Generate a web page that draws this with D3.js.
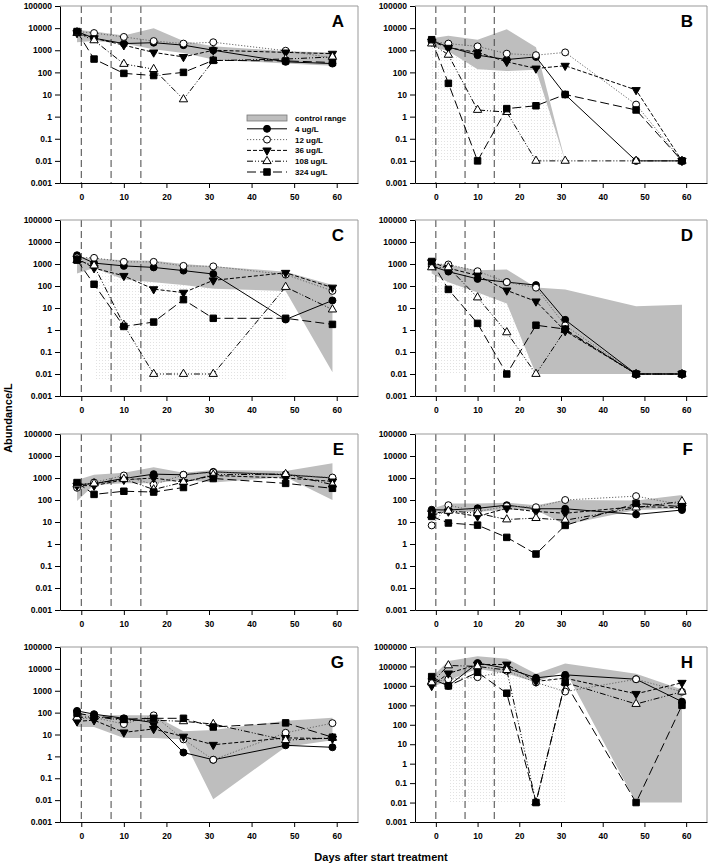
<!DOCTYPE html>
<html><head><meta charset="utf-8">
<script src="https://cdn.jsdelivr.net/npm/d3@7"></script>
<style>
body{margin:0;background:#fff}
svg{display:block}
text{font-family:"Liberation Sans",Arial,sans-serif;font-weight:bold;fill:#000}
</style>
</head><body>
<svg id="chart" width="710" height="865"></svg>
<script>
// ---------- data ----------
const days = [-1, 3, 10, 17, 24, 31, 48, 59];
const treatmentDays = [0, 7, 14];
const seriesNames = ["4 ug/L", "12 ug/L", "36 ug/L", "108 ug/L", "324 ug/L"];
const panelLetters = ["A", "B", "C", "D", "E", "F", "G", "H"];
const xTickValues = [0, 10, 20, 30, 40, 50, 60];
const yTickValues = [0.001, 0.01, 0.1, 1, 10, 100, 1000, 10000, 100000];
const yTickValuesH = [0.001, 0.01, 0.1, 1, 10, 100, 1000, 10000, 100000, 1000000];

// Panel A
const A4   = [7000, 3500, 2000, 2200, 1700, 1000, 300, 250];
const A12  = [7000, 6000, 4000, 2600, 2000, 2300, 950, 450];
const A36  = [6000, 3500, 1700, 800, 500, 1000, 800, 700];
const A108 = [6000, 2800, 240, 140, 6, 340, 400, 500];
const A324 = [7000, 400, 90, 72, 100, 350, 330, 280];
const ctrlHiA = [8500, 7000, 4700, 10000, 2600, 1500, 900, 800];
const ctrlLoA = [2300, 2600, 2000, 1100, 750, 380, 250, 200];
// Panel B
const B4   = [2800, 1400, 600, 380, 500, 10, 0.01, 0.01];
const B12  = [2500, 2000, 1500, 700, 600, 800, 3.5, 0.01];
const B36  = [2500, 1300, 800, 300, 150, 200, 16, 0.01];
const B108 = [2000, 620, 2, 1.6, 0.01, 0.01, 0.01, 0.01];
const B324 = [3000, 32, 0.01, 2.3, 3.1, 10, 2, 0.01];
const ctrlHiB = [3500, 4500, 3000, 9000, 1350, 0.01, 0.01, 0.01];
const ctrlLoB = [1500, 900, 140, 115, 130, 0.01, 0.01, 0.01];
const stipB = [0.01, 0.01, 0.01, 0.01, 0.01, 0.01, null, null];
// Panel C
const C4   = [2500, 1100, 820, 700, 500, 350, 3, 22];
const C12  = [2000, 1900, 1250, 1250, 820, 780, 330, 60];
const C36  = [1800, 650, 290, 72, 50, 180, 400, 85];
const C108 = [1500, 850, 1.7, 0.01, 0.01, 0.01, 90, 8.5];
const C324 = [1500, 120, 1.45, 2.3, 24, 3.4, 3.4, 1.8];
const ctrlHiC = [2100, 1800, 1500, 1400, 1000, 800, 440, 110];
const ctrlLoC = [370, 650, 200, 150, 110, 75, 60, 0.012];
const stipC = [null, 0.006, 0.006, 0.006, 0.006, 0.006, 0.006, null];
// Panel D
const D4   = [800, 450, 210, 150, 110, 2.9, 0.01, 0.01];
const D12  = [1000, 950, 470, 150, 84, 1.6, 0.01, 0.01];
const D36  = [1200, 650, 300, 63, 20, 0.9, 0.01, 0.01];
const D108 = [700, 700, 30, 0.78, 0.01, 1, 0.01, 0.01];
const D324 = [1300, 70, 2, 0.01, 1.65, 1.1, 0.01, 0.01];
const ctrlHiD = [1050, 900, 520, 560, 85, 70, 12, 14];
const ctrlLoD = [370, 150, 50, 16, 0.01, 0.01, 0.01, 0.01];
const stipD = [0.01, 0.01, 0.01, 0.01, 0.01, null, null, null];
// Panel E
const E4   = [500, 550, 950, 1500, 1400, 1900, 1400, 1000];
const E12  = [360, 630, 1300, 500, 1400, 1800, 1450, 1050];
const E36  = [450, 450, 830, 1000, 650, 1300, 1000, 700];
const E108 = [500, 560, 900, 300, 650, 1400, 1500, 500];
const E324 = [620, 180, 250, 230, 370, 950, 570, 340];
const ctrlHiE = [810, 1400, 1750, 3100, 1750, 2300, 2100, 4700];
const ctrlLoE = [90, 480, 570, 570, 810, 630, 1100, 100];
// Panel F
const F4   = [36, 35, 42, 58, 40, 40, 22, 35];
const F12  = [7, 58, 30, 52, 47, 100, 150, 60];
const F36  = [25, 30, 18, 42, 30, 25, 50, 45];
const F108 = [20, 32, 25, 13, 15, 12, 45, 87];
const F324 = [18, 9, 7.2, 2, 0.35, 7, 70, 50];
const ctrlHiF = [40, 70, 70, 75, 58, 100, 95, 170];
const ctrlLoF = [30, 29, 29, 35, 35, 7.5, 35, 40];
// Panel G
const G4   = [120, 85, 55, 35, 1.5, 0.7, 3.2, 2.6];
const G12  = [50, 60, 30, 75, 6, 0.7, 12, 33];
const G36  = [40, 45, 12.5, 18, 8, 3.4, 7, 6.5];
const G108 = [60, 65, 45, 45, 40, 30, 5.5, 7];
const G324 = [93, 70, 50, 55, 55, 22, 34, 7.5];
const ctrlHiG = [105, 75, 75, 75, 14, 16, 43, 58];
const ctrlLoG = [22, 22, 7, 7, 6, 0.011, 2.7, 5.5];
// Panel H
const H4   = [23000, 10000, 150000, 80000, 26000, 37000, 22000, 1550];
const H12  = [15000, 22000, 28000, 60000, 15000, 5100, 22000, 5000];
const H36  = [10000, 44000, 126000, 126000, 17000, 25000, 3900, 14500];
const H108 = [15000, 113000, 100000, 65000, 0.01, 15000, 1170, 5000];
const H324 = [30000, 10000, 50000, 4200, 0.01, 15000, 0.01, 1000];
const ctrlHiH = [28000, 190000, 330000, 250000, 42000, 140000, 42000, 6500];
const ctrlLoH = [8600, 19000, 76000, 42000, 15600, 62000, 0.01, 0.01];
const stipH = [null, 0.01, 0.01, 0.01, 0.01, 0.01, null, null];

// ---------- table built from arrays ----------
const panels = [
  {s:[A4,A12,A36,A108,A324], hi:ctrlHiA, lo:ctrlLoA, stip:null, yt:yTickValues},
  {s:[B4,B12,B36,B108,B324], hi:ctrlHiB, lo:ctrlLoB, stip:stipB, yt:yTickValues},
  {s:[C4,C12,C36,C108,C324], hi:ctrlHiC, lo:ctrlLoC, stip:stipC, yt:yTickValues},
  {s:[D4,D12,D36,D108,D324], hi:ctrlHiD, lo:ctrlLoD, stip:stipD, yt:yTickValues},
  {s:[E4,E12,E36,E108,E324], hi:ctrlHiE, lo:ctrlLoE, stip:null, yt:yTickValues},
  {s:[F4,F12,F36,F108,F324], hi:ctrlHiF, lo:ctrlLoF, stip:null, yt:yTickValues},
  {s:[G4,G12,G36,G108,G324], hi:ctrlHiG, lo:ctrlLoG, stip:null, yt:yTickValues},
  {s:[H4,H12,H36,H108,H324], hi:ctrlHiH, lo:ctrlLoH, stip:stipH, yt:yTickValuesH}
];

// ---------- styles ----------
const styles = [
  {dash:null,            stroke:"#000", sym:d3.symbolCircle,   size:38, fill:"#000", rot:0},
  {dash:"1.2,1.8",       stroke:"#666", sym:d3.symbolCircle,   size:38, fill:"#fff", rot:0},
  {dash:"4,2",           stroke:"#000", sym:d3.symbolTriangle, size:30, fill:"#000", rot:180},
  {dash:"6,2,1,2,1,2",   stroke:"#000", sym:d3.symbolTriangle, size:30, fill:"#fff", rot:0},
  {dash:"9,4",           stroke:"#000", sym:d3.symbolSquare,   size:42, fill:"#000", rot:0}
];
const bandFill = "#bebebe";

const svg = d3.select("#chart");
const defs = svg.append("defs");
const pat = defs.append("pattern").attr("id","stip").attr("width",3).attr("height",3)
  .attr("patternUnits","userSpaceOnUse");
pat.append("rect").attr("width",1).attr("height",1).attr("fill","#e2e2e2");

const colX = [[60, 358], [415, 707]];
const rowY = [[6, 183], [220, 396], [434, 610], [647, 822]];

panels.forEach((p, i) => {
  const c = i % 2, r = Math.floor(i / 2);
  const [x0, x1] = colX[c], [y0, y1] = rowY[r];
  const x = d3.scaleLinear().domain([-5, 65]).range([x0, x1]);
  const yTop = p.yt[p.yt.length - 1];
  const y = d3.scaleLog().domain([0.001, yTop]).range([y1, y0]);
  const g = svg.append("g");

  // control range band
  const band = days.map((d, k) => ({d, hi:p.hi[k], lo:p.lo[k]}));
  g.append("path").datum(band)
    .attr("d", d3.area().x(o => x(o.d)).y0(o => y(o.lo)).y1(o => y(o.hi)))
    .attr("fill", bandFill).attr("stroke", "none");

  // stippled lower region
  if (p.stip) {
    const st = days.map((d, k) => ({d, lo:p.lo[k], f:p.stip[k]}));
    g.append("path").datum(st)
      .attr("d", d3.area().defined(o => o.f !== null).x(o => x(o.d)).y0(o => y(o.f)).y1(o => y(o.lo)))
      .attr("fill", "url(#stip)").attr("stroke", "none");
  }

  // treatment dashed lines
  g.selectAll(".tl").data(treatmentDays).enter().append("line")
    .attr("x1", d => x(d)).attr("x2", d => x(d)).attr("y1", y0).attr("y2", y1)
    .attr("stroke", "#444").attr("stroke-width", 1).attr("stroke-dasharray", "7,4");

  // series
  p.s.forEach((vals, si) => {
    const st = styles[si];
    const pts = days.map((d, k) => ({d, v:vals[k]}));
    g.append("path").datum(pts)
      .attr("d", d3.line().x(o => x(o.d)).y(o => y(o.v)))
      .attr("fill", "none").attr("stroke", st.stroke).attr("stroke-width", 1)
      .attr("stroke-dasharray", st.dash);
    g.selectAll(null).data(pts).enter().append("path")
      .attr("d", d3.symbol().type(st.sym).size(st.size))
      .attr("transform", o => `translate(${x(o.d)},${y(o.v)}) rotate(${st.rot})`)
      .attr("fill", st.fill).attr("stroke", "#000").attr("stroke-width", 1);
  });

  // frame (top and right)
  g.append("path").attr("d", `M${x0},${y0}H${x1}V${y1}`)
    .attr("fill", "none").attr("stroke", "#999").attr("stroke-width", 1);

  // axes
  const minorY = [];
  for (let e = -3; e < Math.log10(yTop); e++) for (let m = 2; m <= 9; m++) minorY.push(m * Math.pow(10, e));
  const ay = g.append("g").attr("transform", `translate(${x0},0)`);
  ay.call(d3.axisLeft(y).tickValues(minorY).tickSize(3).tickSizeOuter(0).tickFormat(""));
  ay.call(d3.axisLeft(y).tickValues(p.yt).tickSize(5).tickSizeOuter(0).tickPadding(3)
    .tickFormat(v => String(v)));
  ay.selectAll("text").style("font-size", "8.5px").style("font-family", null);

  const minorX = d3.range(-4, 65, 2);
  const ax = g.append("g").attr("transform", `translate(0,${y1})`);
  ax.call(d3.axisBottom(x).tickValues(minorX).tickSize(3).tickSizeOuter(0).tickFormat(""));
  ax.call(d3.axisBottom(x).tickValues(xTickValues).tickSize(5).tickSizeOuter(0).tickPadding(6));
  ax.selectAll("text").style("font-size", "8.5px").style("font-family", null);
  svg.selectAll(".domain").attr("stroke", "#000");

  // panel letter
  g.append("text").attr("x", x1 - 14).attr("y", y0 + 21).attr("text-anchor", "end")
    .style("font-size", "17px").text(panelLetters[i]);

  // legend in first panel
  if (i === 0) {
    const lx = x0 + 187, ly = y0 + 112, dy = 10.8;
    const lg = g.append("g");
    lg.append("rect").attr("x", lx).attr("y", ly - 3).attr("width", 40).attr("height", 6)
      .attr("fill", bandFill).attr("stroke", "#777").attr("stroke-width", 0.8);
    lg.append("text").attr("x", lx + 48).attr("y", ly + 3).style("font-size", "8px").text("control range");
    seriesNames.forEach((nm, si) => {
      const st = styles[si], yy = ly + dy * (si + 1);
      lg.append("line").attr("x1", lx).attr("x2", lx + 40).attr("y1", yy).attr("y2", yy)
        .attr("stroke", st.stroke).attr("stroke-width", 1).attr("stroke-dasharray", st.dash);
      lg.append("path").attr("d", d3.symbol().type(st.sym).size(st.size))
        .attr("transform", `translate(${lx + 20},${yy}) rotate(${st.rot})`)
        .attr("fill", st.fill).attr("stroke", "#000");
      lg.append("text").attr("x", lx + 48).attr("y", yy + 3).style("font-size", "8px").text(nm);
    });
  }
});

// axis titles
svg.append("text").attr("transform", "translate(12,418) rotate(-90)").attr("text-anchor", "middle")
  .style("font-size", "11px").text("Abundance/L");
svg.append("text").attr("x", 381).attr("y", 861).attr("text-anchor", "middle")
  .style("font-size", "11px").text("Days after start treatment");
</script>
</body></html>
